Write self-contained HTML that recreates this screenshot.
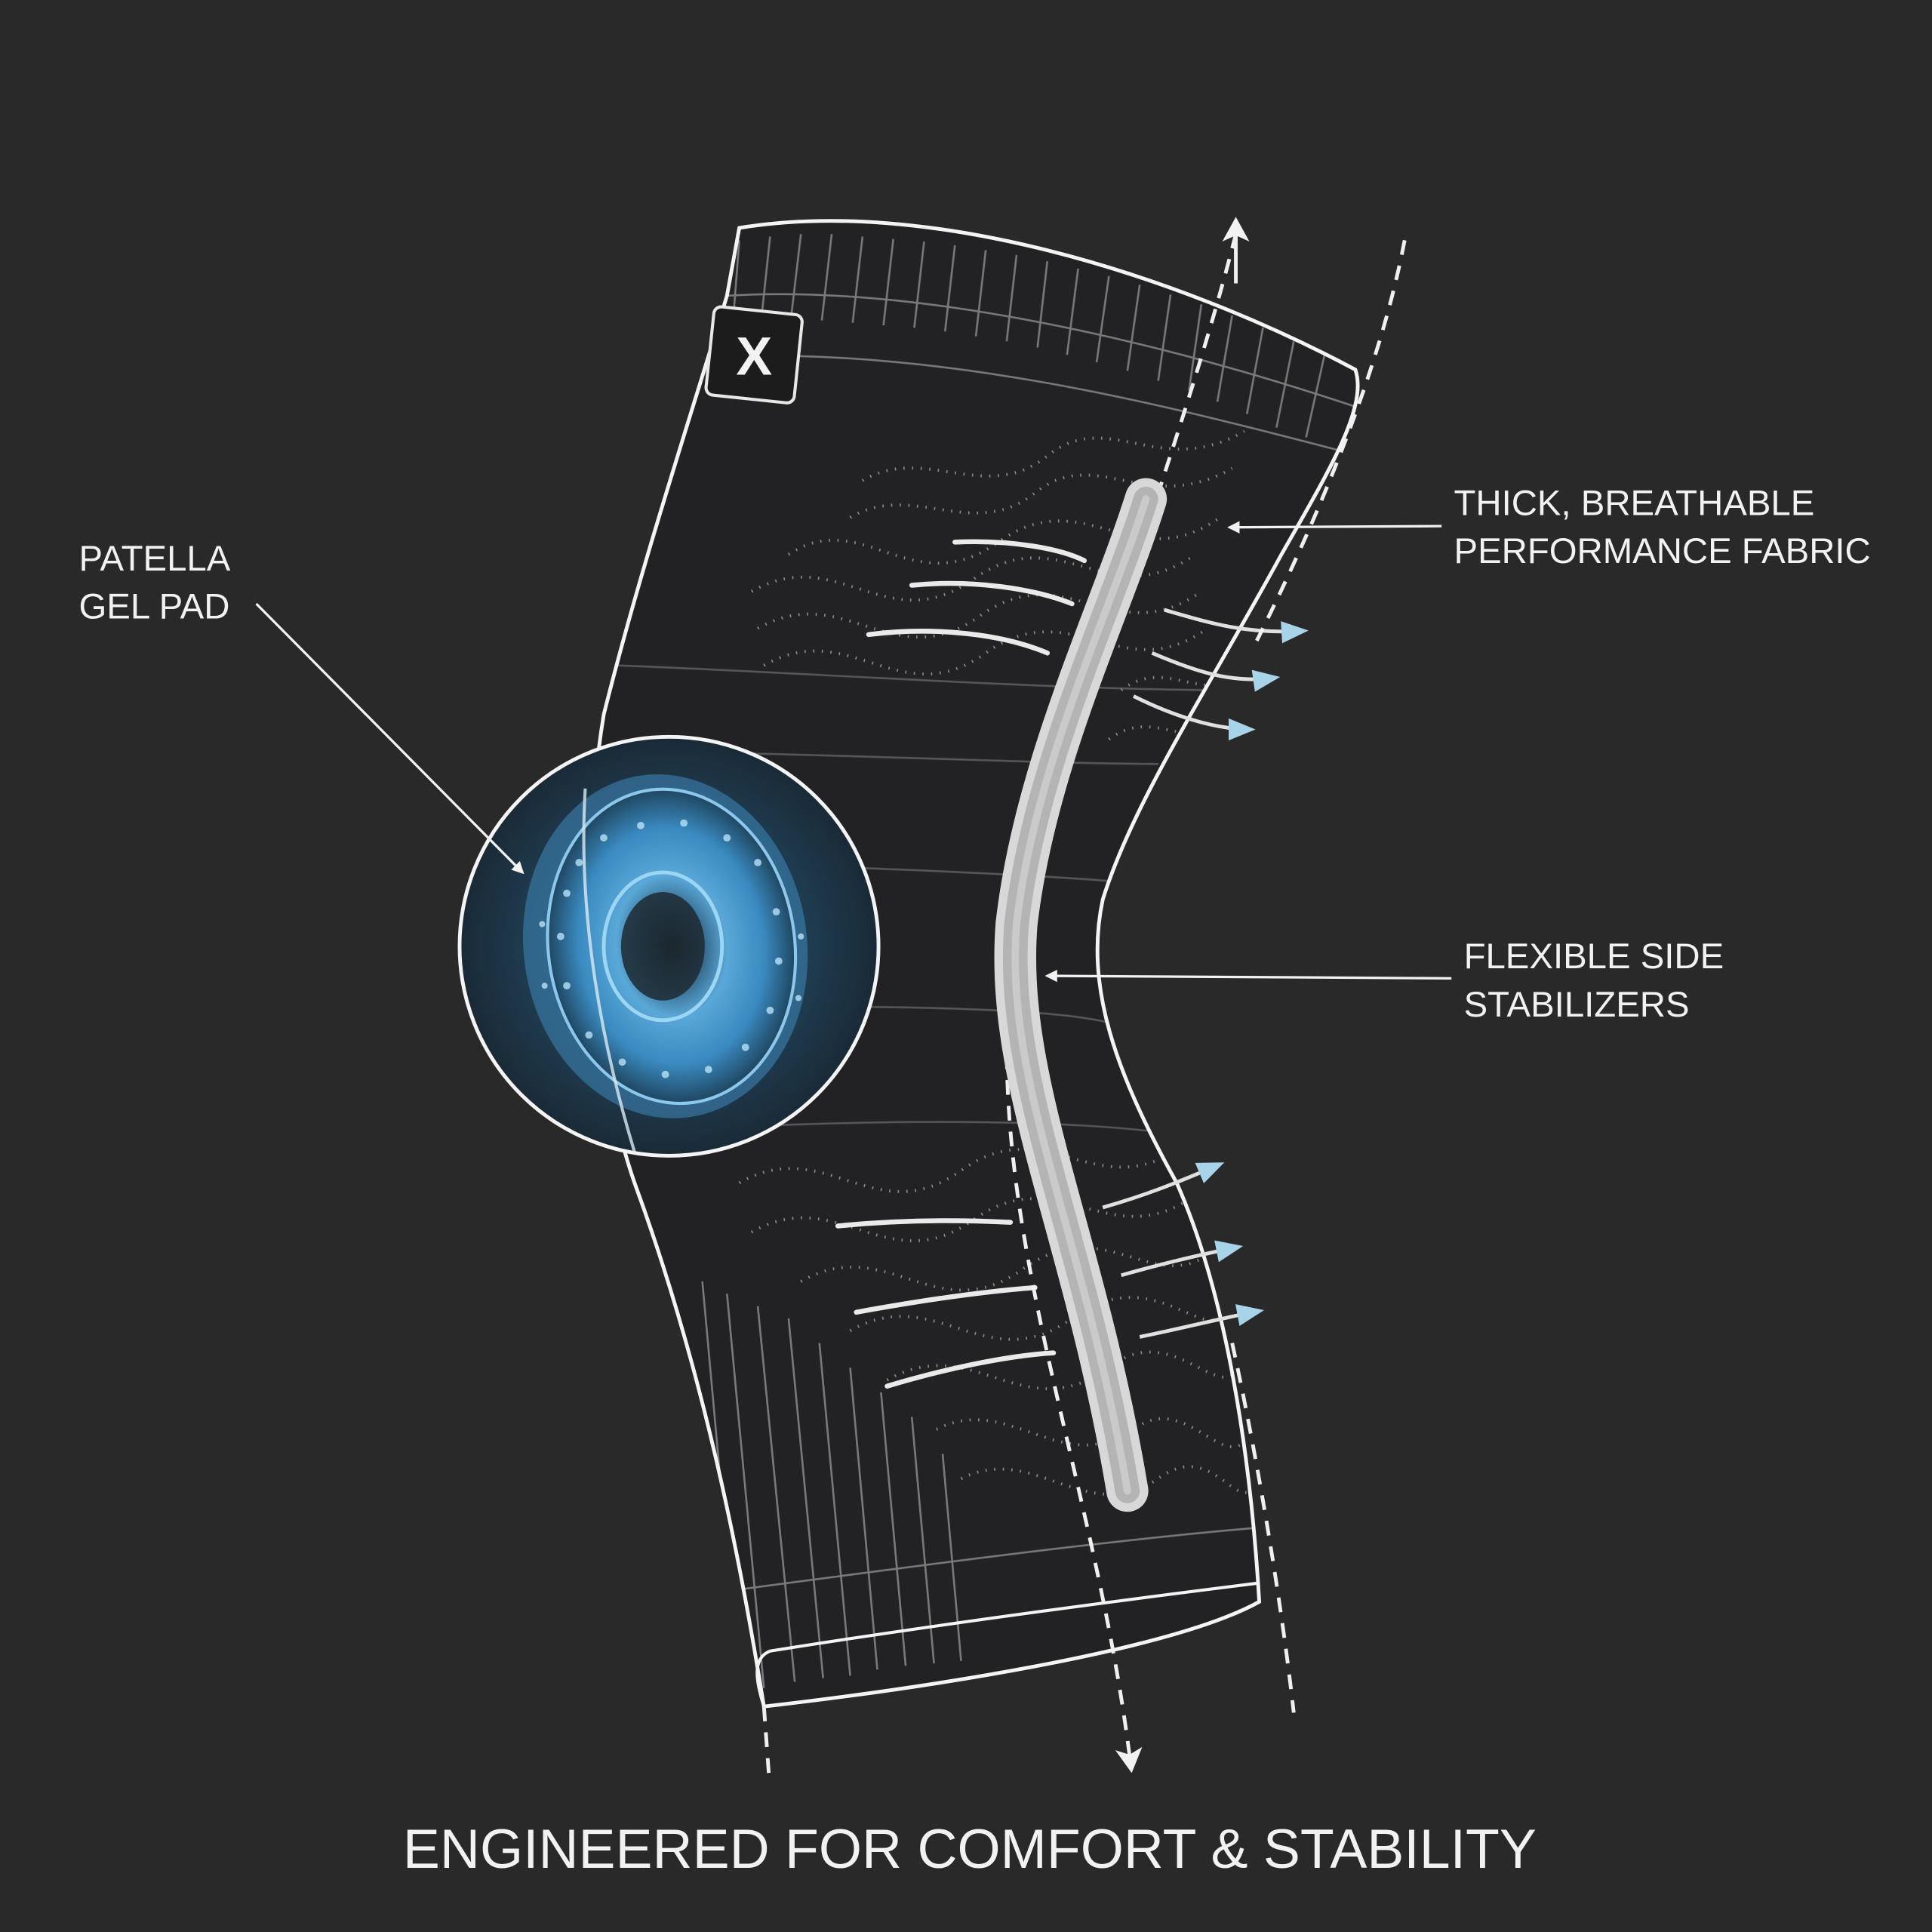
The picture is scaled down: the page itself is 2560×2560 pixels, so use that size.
<!DOCTYPE html>
<html><head><meta charset="utf-8"><style>
html,body{margin:0;padding:0;background:#29292a;}
svg{display:block}
text{font-family:"Liberation Sans",sans-serif;fill:#f2f2f2}
</style></head><body>
<svg width="2560" height="2560" viewBox="0 0 1568 1568" xmlns="http://www.w3.org/2000/svg">
<defs>
<radialGradient id="gel" cx="0.5" cy="0.5" r="0.5">
<stop offset="0" stop-color="#151515"/>
<stop offset="0.22" stop-color="#2d5a78"/>
<stop offset="0.45" stop-color="#5aa8d8"/>
<stop offset="0.75" stop-color="#3a8ac0"/>
<stop offset="1" stop-color="#1f4660"/>
</radialGradient>
<radialGradient id="glow" cx="0.5" cy="0.5" r="0.5">
<stop offset="0" stop-color="#2c5570"/>
<stop offset="0.7" stop-color="#1e3a4e"/>
<stop offset="1" stop-color="#1a2a36"/>
</radialGradient>
<marker id="ah" markerWidth="10" markerHeight="10" refX="8" refY="5" orient="auto" markerUnits="userSpaceOnUse"><path d="M0,0 L10,5 L0,10 z" fill="#f2f2f2"/></marker>
<marker id="ahb" markerWidth="22" markerHeight="18" refX="18" refY="9" orient="auto" markerUnits="userSpaceOnUse"><path d="M0,0 L22,9 L0,18 z" fill="#a8d4ea"/></marker>
<marker id="ahw" markerWidth="20" markerHeight="22" refX="16" refY="11" orient="auto" markerUnits="userSpaceOnUse"><path d="M0,0 L20,11 L0,22 L5,11 z" fill="#f2f2f2"/></marker>
<clipPath id="sleeve"><path d="M600,185 C750,160 950,220 1100,300 C1110,330 1080,380 1040,450 C980,560 920,650 895,730 C880,800 905,870 955,960 C995,1050 1015,1180 1022,1300 C950,1340 750,1370 620,1385 C600,1260 570,1110 515,960 C480,860 470,700 490,580 C520,460 560,340 590,240 Z"/></clipPath>
</defs>
<rect width="1568" height="1568" fill="#29292a"/>
<path d="M600,185 C750,160 950,220 1100,300 C1110,330 1080,380 1040,450 C980,560 920,650 895,730 C880,800 905,870 955,960 C995,1050 1015,1180 1022,1300 C950,1340 750,1370 620,1385 C600,1260 570,1110 515,960 C480,860 470,700 490,580 C520,460 560,340 590,240 Z" fill="#222224"/>
<g clip-path="url(#sleeve)" stroke="#8a8a8a" stroke-width="1.6" fill="none" opacity="0.85">
<path d="M600,195 L595,260"/><path d="M625,192 L618,258"/><path d="M650,190 L642,258"/><path d="M675,190 L667,260"/><path d="M700,192 L692,262"/><path d="M725,194 L717,264"/><path d="M750,196 L742,266"/><path d="M775,199 L767,269"/><path d="M800,203 L792,273"/><path d="M825,207 L817,277"/><path d="M850,212 L842,282"/><path d="M875,218 L866,288"/><path d="M900,224 L890,294"/><path d="M925,231 L915,301"/><path d="M950,239 L940,309"/><path d="M975,247 L965,317"/><path d="M1000,256 L988,326"/><path d="M1025,266 L1012,336"/><path d="M1050,277 L1036,347"/><path d="M1075,288 L1060,355"/>
<path d="M590,240 C750,230 950,280 1100,330"/>
<path d="M575,290 C760,280 950,330 1085,365"/>
<path d="M500,540 C640,545 850,560 990,560" opacity="0.6"/>
<path d="M490,610 C640,610 840,620 940,620" opacity="0.6"/>
<path d="M485,700 C640,700 840,710 900,715" opacity="0.6"/>
<path d="M490,820 C640,815 840,815 900,830" opacity="0.6"/>
<path d="M510,920 C640,910 840,905 950,920" opacity="0.6"/>
<path d="M570,1040 L600,1370"/><path d="M590,1050 L620,1370"/><path d="M615,1060 L645,1365"/><path d="M640,1070 L668,1362"/><path d="M665,1090 L690,1360"/><path d="M690,1110 L712,1355"/><path d="M715,1130 L735,1352"/><path d="M740,1150 L758,1350"/><path d="M765,1180 L780,1348"/>
<path d="M600,1290 C750,1270 900,1250 1020,1240"/>
<g stroke="#a0a0a0" stroke-dasharray="1 6" stroke-width="2.4">
<path d="M610,480 C680,440 720,520 790,470 C860,420 900,500 970,450"/>
<path d="M615,510 C685,470 725,550 795,500 C865,450 905,530 975,480"/>
<path d="M620,540 C690,500 730,580 800,530 C870,480 910,560 980,510"/>
<path d="M640,450 C700,410 740,490 810,440 C880,390 920,470 990,420"/>
<path d="M690,420 C740,390 790,440 840,400 C890,360 930,420 1000,380"/>
<path d="M700,390 C750,360 800,410 850,370 C900,330 940,390 1010,350"/>
<path d="M910,560 C950,530 980,580 1020,540"/>
<path d="M900,600 C940,570 970,620 1005,580"/>
<path d="M600,960 C670,920 710,1000 780,950 C850,900 890,980 960,930"/>
<path d="M610,1000 C680,960 720,1040 790,990 C860,940 900,1020 970,970"/>
<path d="M650,1040 C720,1000 760,1080 830,1030 C900,980 940,1060 990,1010"/>
<path d="M690,1080 C760,1040 800,1120 870,1070 C940,1020 980,1100 1000,1060"/>
<path d="M720,1120 C790,1080 830,1160 900,1110 C950,1070 990,1140 1005,1110"/>
<path d="M760,1160 C820,1130 860,1200 920,1160 C960,1130 990,1190 1010,1170"/>
<path d="M780,1200 C840,1170 880,1240 940,1200 C980,1170 1000,1220 1015,1210"/>
</g>
</g>
<path d="M600,185 C750,160 950,220 1100,300 C1110,330 1080,380 1040,450 C980,560 920,650 895,730 C880,800 905,870 955,960 C995,1050 1015,1180 1022,1300 C950,1340 750,1370 620,1385 C600,1260 570,1110 515,960 C480,860 470,700 490,580 C520,460 560,340 590,240 Z" fill="none" stroke="#f4f4f4" stroke-width="3"/>
<path d="M620,1385 C612,1360 612,1345 625,1340 C750,1320 900,1300 1020,1285" fill="none" stroke="#f4f4f4" stroke-width="2.5"/>
<rect x="576" y="252" width="72" height="72" rx="6" fill="#1c1c1c" stroke="#e8e8e8" stroke-width="2.5" transform="rotate(6 612 288)"/>
<text x="612" y="304" text-anchor="middle" font-size="44" font-weight="bold" font-family="Liberation Serif,serif" fill="#eee">X</text>
<g stroke="#eaeaea" stroke-width="4" fill="none" stroke-linecap="round">
<path d="M775,440 C820,438 860,445 880,455"/>
<path d="M740,475 C790,470 840,478 870,490"/>
<path d="M705,515 C760,508 815,515 850,530"/>
<path d="M680,995 C730,990 780,990 820,992"/>
<path d="M695,1065 C750,1055 800,1048 840,1045"/>
<path d="M720,1125 C770,1110 820,1100 855,1098"/>
</g>
<g stroke="#e0e0e0" stroke-width="3" fill="none" marker-end="url(#ahb)">
<path d="M945,495 C980,505 1010,515 1058,512"/>
<path d="M935,530 C970,545 1000,555 1035,550"/>
<path d="M920,565 C950,580 985,592 1015,592"/>
<path d="M895,980 C930,970 955,960 990,945"/>
<path d="M910,1035 C945,1025 975,1018 1005,1012"/>
<path d="M925,1085 C960,1078 990,1070 1022,1064"/>
</g>
<g stroke="#f0f0f0" stroke-width="3" fill="none" stroke-dasharray="12 9">
<path d="M1003,190 C960,360 880,560 820,790 C800,1000 890,1200 918,1435" marker-end="url(#ahw)"/>
<path d="M1140,195 C1120,300 1070,420 1020,520" />
<path d="M1000,1090 C1020,1180 1040,1300 1050,1390"/>
<path d="M620,1385 L624,1440"/>
</g>
<path d="M1003,230 L1003,180" stroke="#f0f0f0" stroke-width="3" marker-end="url(#ahw)"/>
<path d="M930,405 C900,500 840,620 825,750 C815,880 880,1000 915,1210" fill="none" stroke="#d8d8d8" stroke-width="34" stroke-linecap="round"/>
<path d="M930,405 C900,500 840,620 825,750 C815,880 880,1000 915,1210" fill="none" stroke="#b4b4b4" stroke-width="20" stroke-linecap="round"/>
<path d="M930,405 C900,500 840,620 825,750 C815,880 880,1000 915,1210" fill="none" stroke="#cacaca" stroke-width="6" stroke-linecap="round"/>
<circle cx="543" cy="768" r="170" fill="url(#glow)" stroke="#f4f4f4" stroke-width="3"/>
<ellipse cx="540" cy="768" rx="115" ry="140" fill="#3f88bb" opacity="0.55" transform="rotate(-8 540 768)"/>
<ellipse cx="545" cy="768" rx="100" ry="128" fill="url(#gel)" stroke="#8cc8ec" stroke-width="2.5" transform="rotate(-8 545 768)"/>
<ellipse cx="538" cy="768" rx="48" ry="60" fill="none" stroke="#9cd6f4" stroke-width="3"/>
<ellipse cx="538" cy="768" rx="34" ry="44" fill="#1d2a33" opacity="0.85"/>
<g fill="#b8e2f8" opacity="0.8">
<circle cx="470" cy="700" r="3"/><circle cx="490" cy="680" r="3"/><circle cx="520" cy="670" r="3"/><circle cx="555" cy="668" r="3"/><circle cx="590" cy="680" r="3"/><circle cx="615" cy="700" r="3"/><circle cx="630" cy="740" r="3"/><circle cx="632" cy="780" r="3"/><circle cx="625" cy="820" r="3"/><circle cx="605" cy="850" r="3"/><circle cx="575" cy="868" r="3"/><circle cx="540" cy="872" r="3"/><circle cx="505" cy="862" r="3"/><circle cx="478" cy="840" r="3"/><circle cx="460" cy="800" r="3"/><circle cx="455" cy="760" r="3"/><circle cx="460" cy="725" r="3"/>
<circle cx="440" cy="750" r="2.5"/><circle cx="442" cy="800" r="2.5"/><circle cx="650" cy="760" r="2.5"/><circle cx="648" cy="810" r="2.5"/>
</g>
<path d="M475,640 C470,720 480,820 515,935" fill="none" stroke="#dbeaf2" stroke-width="2.5" opacity="0.8"/>
<text x="64" y="463" font-size="29">PATELLA</text>
<text x="64" y="502" font-size="29">GEL PAD</text>
<line x1="208" y1="490" x2="424" y2="708" stroke="#f2f2f2" stroke-width="2" marker-end="url(#ah)"/>
<text x="1180" y="418" font-size="29">THICK, BREATHABLE</text>
<text x="1180" y="457" font-size="29">PERFORMANCE FABRIC</text>
<line x1="1170" y1="427" x2="998" y2="428" stroke="#f2f2f2" stroke-width="2" marker-end="url(#ah)"/>
<text x="1188" y="786" font-size="29">FLEXIBLE SIDE</text>
<text x="1188" y="825" font-size="29">STABILIZERS</text>
<line x1="1178" y1="794" x2="850" y2="792" stroke="#f2f2f2" stroke-width="2" marker-end="url(#ah)"/>
<text x="787" y="1516" font-size="45" text-anchor="middle">ENGINEERED FOR COMFORT &amp; STABILITY</text>
</svg>
</body></html>
